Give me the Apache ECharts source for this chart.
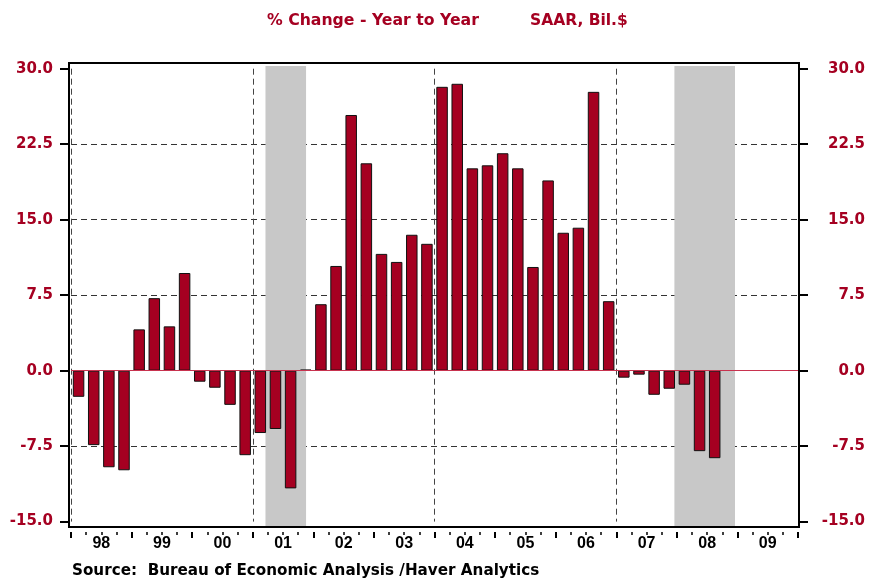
<!DOCTYPE html>
<html>
<head>
<meta charset="utf-8">
<script src="https://cdn.jsdelivr.net/npm/echarts@6/dist/echarts.min.js"></script>
<style>
  html, body { margin: 0; padding: 0; background: #fff; }
  #chart { width: 869px; height: 582px; }
</style>
</head>
<body>
<div id="chart"></div>
<script>
// quarterly, 1998Q1 .. 2008Q3 (2009 has no data yet)
var startYear = 1998;
var yearLabels = ['98', '99', '00', '01', '02', '03', '04', '05', '06', '07', '08', '09'];
var yoyChange = [
  -2.6, -7.4, -9.6, -9.9,    // 98
  4.1, 7.2, 4.4, 9.7,        // 99
  -1.1, -1.7, -3.4, -8.4,    // 00
  -6.2, -5.8, -11.7, 0.1,    // 01
  6.6, 10.4, 25.4, 20.6,     // 02
  11.6, 10.8, 13.5, 12.6,    // 03
  28.2, 28.5, 20.1, 20.4,    // 04
  21.6, 20.1, 10.3, 18.9,    // 05
  13.7, 14.2, 27.7, 6.9,     // 06
  -0.7, -0.4, -2.4, -1.8,    // 07
  -1.4, -8.0, -8.7           // 08
];
var recessions = [[2001.21, 2001.88], [2007.96, 2008.96]];
var yMin = -15, yMax = 30, yStep = 7.5;

var red = '#a50021';
var labelFont = 'DejaVu Sans';

var barData = yoyChange.map(function (v, i) {
  return [startYear + i / 4 + 0.125, v];
});

var chart = echarts.init(document.getElementById('chart'), null, { renderer: 'canvas' });

var yAxisBase = {
  type: 'value', min: yMin, max: yMax, interval: yStep, z: 1, gridIndex: 0,
  axisLine: { show: false, onZero: false },
  axisTick: { show: true, length: 9, lineStyle: { color: '#000', width: 2 } },
  axisLabel: {
    color: red, fontFamily: labelFont, fontWeight: 'bold', fontSize: 15,
    formatter: function (v) { return v.toFixed(1); }
  }
};

var option = {
  animation: false,
  grid: [
    { left: 71, right: 71, top: 68.7, bottom: 60.4 },
    // same x span, full frame height: only for the recession shading
    { left: 71, right: 71, top: 66, bottom: 55 }
  ],
  xAxis: [{
    // quarter ticks
    type: 'value', min: startYear, max: startYear + 12, interval: 1,
    position: 'bottom', offset: 10.4, z: 1, gridIndex: 0,
    axisLine: { show: false, onZero: false },
    axisTick: { show: true, length: 6, lineStyle: { color: '#000', width: 2 } },
    minorTick: { show: true, splitNumber: 4, length: 3, lineStyle: { color: '#000', width: 1.5 } },
    axisLabel: { show: false },
    splitLine: { show: false }
  }, {
    // vertical dashed lines every 3 years
    type: 'value', min: startYear, max: startYear + 12, interval: 3,
    position: 'bottom', z: 1, gridIndex: 0,
    axisLine: { show: false, onZero: false }, axisTick: { show: false }, axisLabel: { show: false },
    splitLine: { show: true, showMaxLine: false, lineStyle: { color: '#444', width: 1, type: [6, 4] } }
  }, {
    // year labels
    type: 'category', data: yearLabels, boundaryGap: true, gridIndex: 0,
    position: 'bottom', offset: 10.4,
    axisLine: { show: false, onZero: false }, axisTick: { show: false }, splitLine: { show: false },
    axisLabel: {
      color: '#000', fontFamily: 'Liberation Sans', fontWeight: 'bold', fontSize: 16, margin: 4
    }
  }, {
    type: 'value', min: startYear, max: startYear + 12, gridIndex: 1, show: false
  }],
  yAxis: [
    echarts.util.merge({
      position: 'left', offset: 2,
      axisLabel: { margin: 16 },
      splitLine: {
        show: true, showMinLine: false, showMaxLine: false,
        lineStyle: { color: '#333', width: 1, type: [6, 4] }
      }
    }, yAxisBase, true),
    echarts.util.merge({
      position: 'right', offset: 1,
      axisLabel: { margin: 66, align: 'right' },
      splitLine: { show: false }
    }, yAxisBase, true),
    { type: 'value', min: 0, max: 1, gridIndex: 1, show: false }
  ],
  series: [{
    // recession shading
    type: 'line', data: [], z: 0, silent: true,
    xAxisIndex: 3, yAxisIndex: 2,
    markArea: {
      silent: true,
      itemStyle: { color: '#c8c8c8' },
      data: recessions.map(function (r) {
        return [{ xAxis: r[0] }, { xAxis: r[1] }];
      })
    }
  }, {
    type: 'bar', xAxisIndex: 0, yAxisIndex: 0, z: 2,
    data: barData, barWidth: 11.5,
    itemStyle: { color: red, borderColor: '#111', borderWidth: 1 },
    markLine: {
      silent: true, symbol: 'none', label: { show: false },
      lineStyle: { color: '#c8334f', width: 1, type: 'solid' },
      data: [{ yAxis: 0 }]
    }
  }],
  graphic: [{
    type: 'rect', z: 50, silent: true,
    shape: { x: 69, y: 63, width: 730, height: 464 },
    style: { fill: null, stroke: '#000', lineWidth: 2 }
  }, {
    type: 'text', left: 267, top: 13,
    style: { text: '% Change - Year to Year', fill: red, font: 'bold 15.7px "DejaVu Sans"' }
  }, {
    type: 'text', left: 530, top: 13,
    style: { text: 'SAAR, Bil.$', fill: red, font: 'bold 15.5px "DejaVu Sans"' }
  }, {
    type: 'text', left: 72, top: 564,
    style: { text: 'Source:  Bureau of Economic Analysis /Haver Analytics', fill: '#000', font: 'bold 15.2px "DejaVu Sans"' }
  }]
};

chart.setOption(option);
</script>
</body>
</html>
